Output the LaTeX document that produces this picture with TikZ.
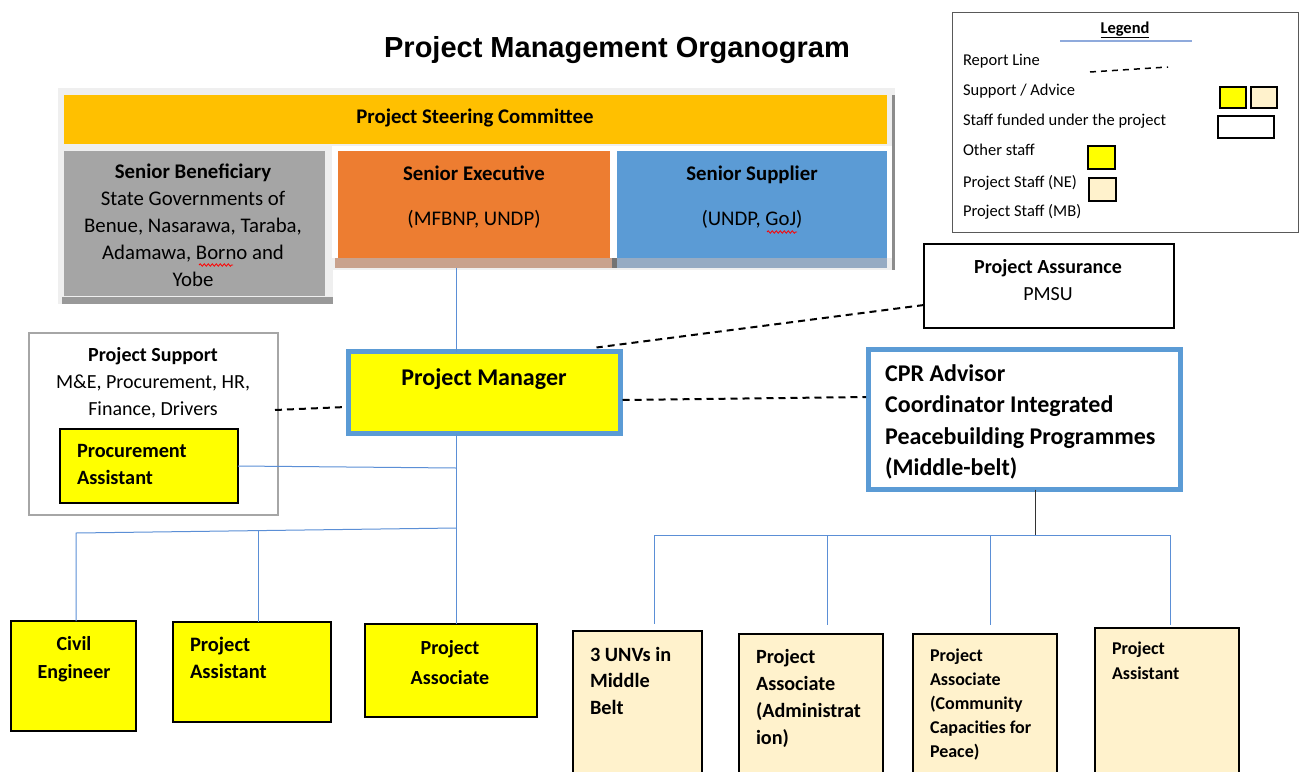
\documentclass[tikz,border=0pt]{standalone}
\usepackage{fontspec}
\setmainfont{Carlito}
\newfontfamily\titlefont{Liberation Sans}
\usetikzlibrary{calc,decorations.pathmorphing}
\definecolor{gold}{HTML}{FFC000}
\definecolor{sgray}{HTML}{A5A5A5}
\definecolor{sorange}{HTML}{ED7D31}
\definecolor{sblue}{HTML}{5B9BD5}
\definecolor{yel}{HTML}{FFFF00}
\definecolor{beige}{HTML}{FFF2CC}
\definecolor{connc}{HTML}{5B8FD6}
\definecolor{shadelight}{HTML}{EFEFEF}
\definecolor{exestrip}{HTML}{C9A28D}
\definecolor{supstrip}{HTML}{96ABC3}
\definecolor{legline}{HTML}{8FAADC}
\begin{document}
\begin{tikzpicture}[x=1pt,y=-1pt,
  box/.style={anchor=north west, inner sep=0pt, outer sep=0pt, draw=black, line width=1.3pt},
  flat/.style={anchor=north west, inner sep=0pt, outer sep=0pt, draw=none},
  bluebox/.style={anchor=north west, inner sep=0pt, outer sep=0pt, draw=sblue, line width=4.5pt},
  txt/.style={inner sep=0pt, outer sep=0pt, font=\fontsize{20}{27}\selectfont},
  toptxt/.style={inner sep=0pt, outer sep=0pt, font=\fontsize{20.8}{27}\selectfont},
  ltxt/.style={inner sep=0pt, outer sep=0pt, anchor=base west, font=\fontsize{16.5}{20}\selectfont},
  conn/.style={draw=connc, line width=1pt},
  rep/.style={draw=black, line width=2pt, dash pattern=on 7pt off 5pt}]
\useasboundingbox (0,0) rectangle (1303,771);
\clip (0,0) rectangle (1303,771);
\fill[white] (0,0) rectangle (1303,771);

% title
\node[inner sep=0pt, anchor=base, font=\titlefont\bfseries\fontsize{29}{34}\selectfont] (title) at (617,57) {Project Management Organogram};

% legend
\node[flat, draw=black!65, line width=1pt, minimum width=346pt, minimum height=220pt] (legend) at (952,12) {};
\node[inner sep=0pt, anchor=base, font=\bfseries\fontsize{16.5}{20}\selectfont] (legendt) at (1125,33) {\underline{Legend}};
\draw[draw=legline, line width=1.2pt] (1060,41) -- (1192,41);
\node[ltxt] (l1) at (963,65) {Report Line};
\node[ltxt] (l2) at (963,95) {Support / Advice};
\node[ltxt] (l3) at (963,125) {Staff funded under the project};
\node[ltxt] (l4) at (963,155) {Other staff};
\node[ltxt] (l5) at (963,187) {Project Staff (NE)};
\node[ltxt] (l6) at (963,216) {Project Staff (MB)};
\draw[rep, line width=1.5pt, dash pattern=on 6pt off 5pt] (1090,72) -- (1168,67);
\node[box, line width=1.2pt, fill=yel, minimum width=26pt, minimum height=21pt] (lg1) at (1220,87) {};
\node[box, line width=1.2pt, fill=beige, minimum width=26pt, minimum height=21pt] (lg2) at (1251,87) {};
\node[box, line width=1.2pt, fill=white, minimum width=56pt, minimum height=22pt] (lg3) at (1218,116) {};
\node[box, line width=1.2pt, fill=yel, minimum width=27pt, minimum height=23pt] (lg4) at (1088,146) {};
\node[box, line width=1.2pt, fill=beige, minimum width=27pt, minimum height=23pt] (lg5) at (1089,178) {};

% steering committee group background / shadows
\fill[shadelight] (58,88) rectangle (895,270);
\fill[shadelight] (58,144) rectangle (333,304);
\fill[white] (332,146) rectangle (892,258);
\fill[black!40] (62,297) rectangle (333,304);
\fill[black!45] (892,95) rectangle (895,270);
\fill[exestrip] (335,258) rectangle (612,268);
\fill[supstrip] (612,258) rectangle (887,268);
\fill[black!55] (612,258) rectangle (617,268);

\node[flat, fill=gold, minimum width=823pt, minimum height=49pt] (psc) at (64,95) {};
\node[inner sep=0pt, anchor=base, font=\bfseries\fontsize{20.8}{27}\selectfont] (psct) at (475,123) {Project Steering Committee};

\node[flat, fill=sgray, minimum width=261pt, minimum height=145pt] (sben) at (64,151) {};
\node[toptxt, anchor=north, align=center] (sbent) at (193,160) {\strut\textbf{Senior Beneficiary}\\State Governments of\\Benue, Nasarawa, Taraba,\\Adamawa, Borno and\\Yobe};
\draw[red, line width=0.8pt, decorate, decoration={snake, amplitude=1.2pt, segment length=4pt}] (199,265) -- (233,265);

\node[flat, fill=sorange, minimum width=272pt, minimum height=107pt] (sexe) at (338,151) {};
\node[toptxt, anchor=north, align=center] (sexet) at (474,162) {\strut\textbf{Senior Executive}\\[18pt](MFBNP, UNDP)};

\node[flat, fill=sblue, minimum width=270pt, minimum height=107pt] (ssup) at (617,151) {};
\node[toptxt, anchor=north, align=center] (ssupt) at (752,162) {\strut\textbf{Senior Supplier}\\[18pt](UNDP, GoJ)};
\draw[red, line width=0.8pt, decorate, decoration={snake, amplitude=1.2pt, segment length=4pt}] (767,232) -- (797,232);

\coordinate (sgbot) at (456,268);

% project assurance
\node[box, fill=white, minimum width=250pt, minimum height=84pt] (pa) at (924,244) {};
\node[txt, anchor=north, align=center] (pat) at (1048,254.5) {\strut\textbf{Project Assurance}\\PMSU};

% project manager
\node[bluebox, fill=yel, minimum width=272pt, minimum height=82pt] (pm) at (348.5,351.5) {};
\node[inner sep=0pt, anchor=base, font=\bfseries\fontsize{24}{30}\selectfont] (pmt) at (484,385) {Project Manager};

% CPR advisor
\node[bluebox, fill=white, minimum width=312pt, minimum height=140pt] (cpr) at (868.5,349.5) {};
\node[inner sep=0pt, anchor=north west, align=left, font=\bfseries\fontsize{24}{31.5}\selectfont] (cprt) at (885,359) {\strut CPR Advisor\\Coordinator Integrated\\Peacebuilding Programmes\\(Middle-belt)};

% project support
\node[box, draw=black!35, line width=2pt, fill=white, minimum width=249pt, minimum height=182pt] (ps) at (29,333) {};
\node[txt, anchor=north, align=center] (pst) at (153,343) {\strut\textbf{Project Support}\\M\&E, Procurement, HR,\\Finance, Drivers};
\node[box, fill=yel, minimum width=178pt, minimum height=74pt] (proc) at (60,429) {};
\node[txt, anchor=north west, align=left, font=\bfseries\fontsize{20.3}{27}\selectfont] (proct) at (77,439) {\strut Procurement\\Assistant};

% left staff
\node[box, fill=yel, minimum width=125pt, minimum height=110pt] (civ) at (11,621) {};
\node[txt, anchor=north, align=center, font=\bfseries\fontsize{20}{28}\selectfont] (civt) at (74,630.4) {\strut Civil\\Engineer};
\node[box, fill=yel, minimum width=158pt, minimum height=100pt] (pasl) at (173,622) {};
\node[txt, anchor=north west, align=left, font=\bfseries\fontsize{20.5}{27}\selectfont] (paslt) at (190,633) {\strut Project\\Assistant};
\node[box, fill=yel, minimum width=172pt, minimum height=93pt] (pacl) at (365,624) {};
\node[txt, anchor=north, align=center, font=\bfseries\fontsize{20}{30}\selectfont] (paclt) at (450,633) {\strut Project\\Associate};

% right staff
\node[box, line width=1.2pt, fill=beige, minimum width=129pt, minimum height=160pt] (unv) at (573,631) {};
\node[txt, anchor=north west, align=left, font=\bfseries\fontsize{20.3}{26.5}\selectfont] (unvt) at (590,642.5) {\strut 3 UNVs in\\Middle\\Belt};
\node[box, line width=1.2pt, fill=beige, minimum width=144pt, minimum height=160pt] (adm) at (739,634) {};
\node[txt, anchor=north west, align=left, font=\bfseries\fontsize{20.2}{27}\selectfont] (admt) at (756,645) {\strut Project\\Associate\\(Administrat\\ion)};
\node[box, line width=1.2pt, fill=beige, minimum width=144pt, minimum height=160pt] (ccp) at (913,634) {};
\node[txt, anchor=north west, align=left, font=\bfseries\fontsize{18}{24}\selectfont] (ccpt) at (930,644.4) {\strut Project\\Associate\\(Community\\Capacities for\\Peace)};
\node[box, line width=1.2pt, fill=beige, minimum width=144pt, minimum height=160pt] (pasr) at (1095,628) {};
\node[txt, anchor=north west, align=left, font=\bfseries\fontsize{18}{25}\selectfont] (pasrt) at (1112,636.7) {\strut Project\\Assistant};

% connectors (solid)
\coordinate (j1) at (456,468);
\coordinate (j2) at (456,528);
\coordinate (b1) at (76,533);
\draw[conn] (sgbot) -- (pm.north -| sgbot);
\draw[conn] (pm.south -| j1) -- (pacl.north -| j1);
\draw[conn] (proc.east) -- (j1);
\draw[conn] (j2) -- (b1) -- (civ.north -| b1);
\coordinate (b2) at ($(b1)!0.479!(j2)$);
\draw[conn] (b2) -- (pasl.north -| b2);

\coordinate (r0) at (1035,535);
\coordinate (r1) at (654,535);
\coordinate (r2) at (827,535);
\coordinate (r3) at (990,535);
\coordinate (r4) at (1170,535);
\draw[conn, draw=black!80] (cpr.south -| r0) -- (r0);
\draw[conn] (r1) -- (r4);
\draw[conn] (r1) -- ($(unv.north -| r1)+(0,-7)$);
\draw[conn] (r2) -- ($(adm.north -| r2)+(0,-9)$);
\draw[conn] (r3) -- ($(ccp.north -| r3)+(0,-9)$);
\draw[conn] (r4) -- ($(pasr.north -| r4)+(0,-3)$);

% report lines (dashed)
\draw[rep] ($(pa.south west)+(0,-23)$) -- ($(pm.north east)+(-24,-4)$);
\draw[rep] ($(pm.east)+(2,7.5)$) -- ($(cpr.west)+(-2.5,-22.5)$);
\draw[rep] ($(ps.east)+(-3,-14)$) -- ($(pm.west)+(-2.5,14.5)$);
\end{tikzpicture}
\end{document}
